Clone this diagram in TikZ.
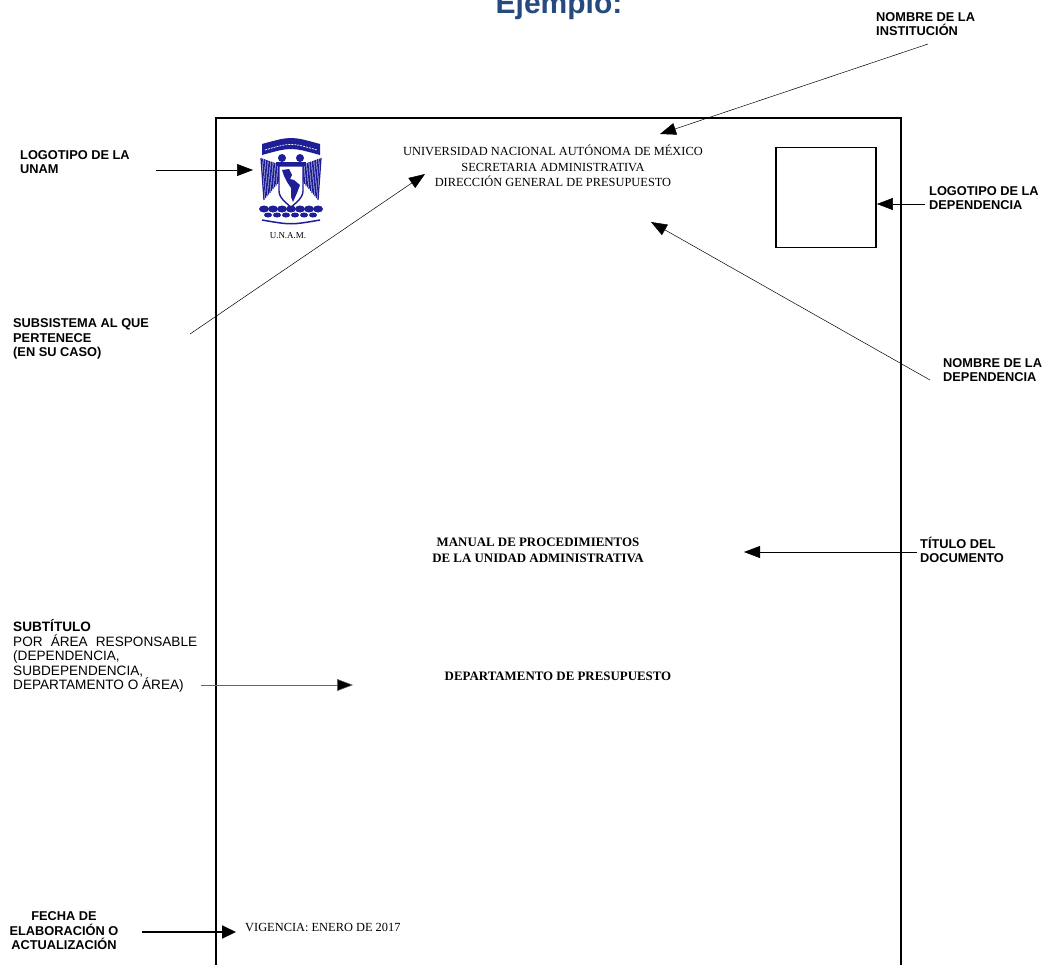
\documentclass[tikz,border=0pt]{standalone}
\usepackage{fontspec}
\setmainfont{Liberation Serif}
\setsansfont{Liberation Sans}
\usetikzlibrary{arrows.meta}
\usetikzlibrary{positioning}
\definecolor{ejblue}{RGB}{36,74,128}
\definecolor{unamblue}{RGB}{30,30,150}

\begin{document}
\begin{tikzpicture}[x=1pt,y=-1pt,
  tag/.style={font=\sffamily\bfseries\fontsize{12.8}{14.5}\selectfont, align=left, inner sep=0pt, anchor=west},
  plain/.style={font=\rmfamily\fontsize{12.4}{15.5}\selectfont, align=center, inner sep=0pt},
  heavy/.style={font=\rmfamily\bfseries\fontsize{12.9}{16}\selectfont, align=center, inner sep=0pt},
  pointer/.style={-{Triangle[length=16pt,width=12pt]}, line width=0.5pt}]
\useasboundingbox (0,0) rectangle (1044,964);
\draw[line width=2pt] (216,980) -- (216,118) -- (901,118) -- (901,980);

\node[font=\sffamily\bfseries\fontsize{30}{31}\selectfont, text=ejblue, anchor=base, inner sep=0pt] (ejemplo) at (559,13) {Ejemplo:};

\node[tag] (inst) at (876,24) {NOMBRE DE LA\\INSTITUCIÓN};
\node[tag] (unamlbl) at (20,162) {LOGOTIPO DE LA\\UNAM};
\node[tag] (subsis) at (13,339) {SUBSISTEMA AL QUE\\PERTENECE\\(EN SU CASO)};
\node[tag] (deplbl) at (929,198) {LOGOTIPO DE LA\\DEPENDENCIA};
\node[tag] (depname) at (943,370) {NOMBRE DE LA\\DEPENDENCIA};
\node[tag] (titlbl) at (920,550) {TÍTULO DEL\\DOCUMENTO};
\node[tag, font=\sffamily\fontsize{13.6}{14.4}\selectfont] (sublbl) at (13,656) {\textbf{SUBTÍTULO}\\\makebox[184pt][s]{POR ÁREA RESPONSABLE}\\(DEPENDENCIA,\\SUBDEPENDENCIA,\\DEPARTAMENTO O ÁREA)};
\node[tag, align=center, anchor=center] (fecha) at (64,931) {FECHA DE\\ELABORACIÓN O\\ACTUALIZACIÓN};

\node[plain] (header) at (553,166) {UNIVERSIDAD NACIONAL AUTÓNOMA DE MÉXICO\\SECRETARIA ADMINISTRATIVA\\DIRECCIÓN GENERAL DE PRESUPUESTO};
\node[plain, font=\rmfamily\fontsize{9}{10}\selectfont] (siglas) at (288,236) {U.N.A.M.};
\node[heavy] (manual) at (538,550) {MANUAL DE PROCEDIMIENTOS\\DE LA UNIDAD ADMINISTRATIVA};
\node[heavy] (depto) at (558,676) {DEPARTAMENTO DE PRESUPUESTO};
\node[plain, anchor=west] (vigencia) at (245,927) {VIGENCIA: ENERO DE 2017};
\node[draw, line width=1.8pt, minimum width=100pt, minimum height=100pt, inner sep=0pt] (depbox) at (826,197.5) {};

\fill[unamblue] (262,144) .. controls (291,136) .. (320,144) -- (320,155) .. controls (291,147) .. (262,155) -- cycle;
\draw[white, line width=0.7pt, dash pattern=on 2pt off 1pt] (265,150) .. controls (291,142.5) .. (317,150);
\foreach \i in {0,...,10}
  \draw[unamblue, line width=1.3pt] (261+\i*1.7,158+\i*0.6) -- (264+\i*1.5,200-\i*1.8);
\foreach \i in {0,...,10}
  \draw[unamblue, line width=1.3pt] (321-\i*1.7,158+\i*0.6) -- (318-\i*1.5,200-\i*1.8);
\fill[unamblue] (282,158) circle (4pt) (300,158) circle (4pt);
\fill[unamblue] (276,162) rectangle (306,166);
\filldraw[fill=white, draw=unamblue, line width=1.4pt] (279,166) -- (303,166) -- (303,191) .. controls (303,200) and (291,205) .. (291,209) .. controls (291,205) and (279,200) .. (279,191) -- cycle;
\fill[unamblue] (282,170) -- (289,169) -- (292,175) -- (290,179) -- (294,180) -- (300,185) -- (297,193) -- (293,202) -- (291,197) -- (291,188) -- (287,182) -- (284,176) -- cycle;
\foreach \i in {0,...,6}
  \fill[unamblue] (264+\i*9,209) ellipse (5pt and 3.5pt);
\foreach \i in {0,...,5}
  \fill[unamblue] (268+\i*9,215) ellipse (4pt and 2.5pt);
\draw[unamblue, line width=1.5pt] (262,220) .. controls (291,225) .. (320,220);
\coordinate (unamlogo) at (253,170);

\coordinate (instfrom) at (928,44);
\coordinate (instto) at (660,134);
\coordinate (unamfrom) at (156,170);
\coordinate (subsfrom) at (190,334);
\coordinate (substo) at (425,174);
\coordinate (depfrom) at (925,204);
\coordinate (namefrom) at (930,380);
\coordinate (nameto) at (651,222);
\coordinate (titfrom) at (917,552);
\coordinate (titto) at (744,552);
\coordinate (subfrom) at (201,685);
\coordinate (subto) at (353,685);
\coordinate (fechafrom) at (142,932);
\coordinate (fechato) at (236,932);

\draw[pointer] (instfrom) -- (instto);
\draw[pointer] (unamfrom) -- (unamlogo);
\draw[pointer] (subsfrom) -- (substo);
\draw[pointer] (depfrom) -- (depbox.east |- depfrom);
\draw[pointer] (namefrom) -- (nameto);
\draw[pointer] (titfrom) -- (titto);
\draw[pointer, draw=black!60, -{Triangle[length=16pt,width=12pt,fill=black]}] (subfrom) -- (subto);
\draw[pointer, line width=2pt, -{Triangle[length=14pt,width=13pt]}] (fechafrom) -- (fechato);
\end{tikzpicture}
\end{document}
